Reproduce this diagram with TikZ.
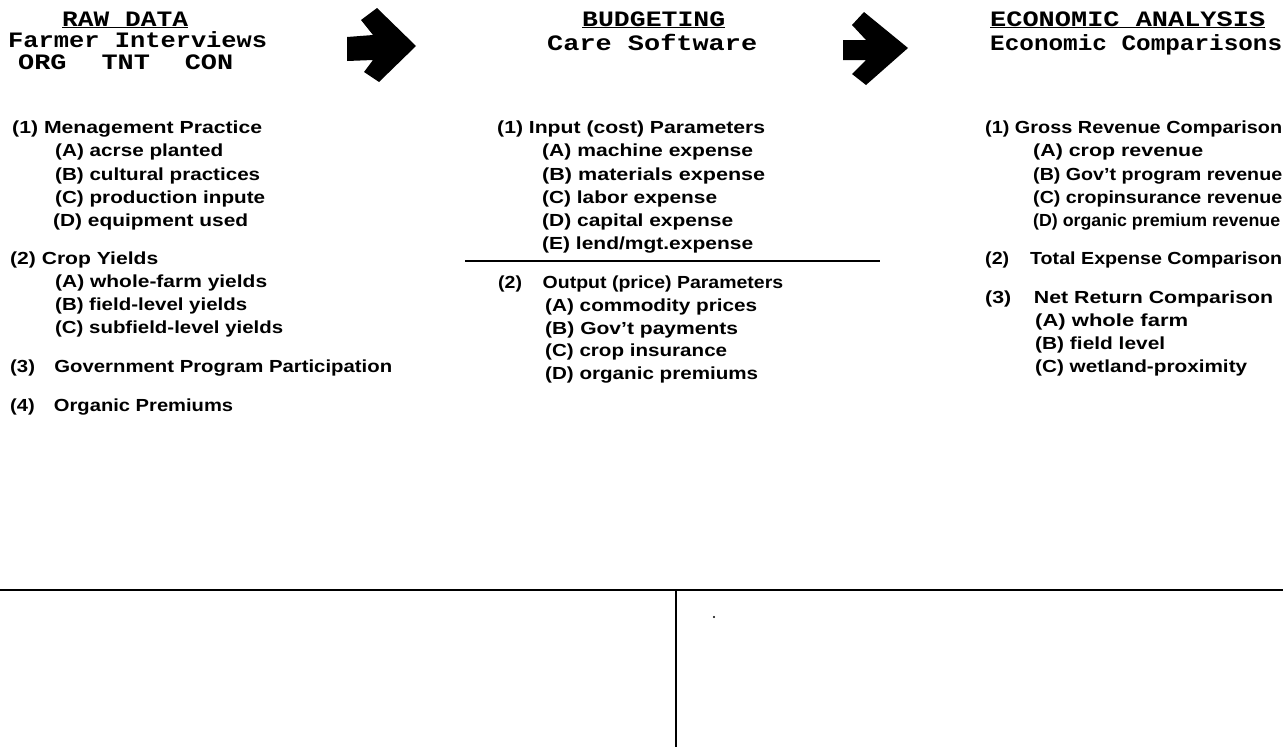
\documentclass[tikz,border=0pt]{standalone}
\usepackage{graphicx}
\usepackage{fontspec}
\newfontfamily\hdfont{Liberation Mono}
\newfontfamily\bdfont{Liberation Sans}
\newcommand\fitw[2]{\resizebox{#1pt}{\height}{#2}}
\tikzset{
  hd/.style={font=\hdfont\bfseries\fontsize{22}{22}\selectfont, inner sep=0pt, anchor=base west},
  tx/.style={font=\bdfont\bfseries\fontsize{17.5}{17.5}\selectfont, inner sep=0pt, anchor=base west},
  rulel/.style={line width=2pt, black},
  framel/.style={line width=2.6pt, black},
  arrowshape/.style={fill=black}
}
\begin{document}
\begin{tikzpicture}[x=1pt,y=-1pt]
\useasboundingbox[fill=white] (0,0) rectangle (1283,747);
% headers
\node[hd] (h1a) at (62,26) {\fitw{126}{\underline{RAW DATA}}};
\node[hd] (h1b) at (8,47) {\fitw{259}{Farmer Interviews}};
\node[hd] (h1c) at (18,69) {\fitw{215}{ORG\hspace{1.3em}TNT\hspace{1.3em}CON}};
\node[hd] (h2a) at (582,26) {\fitw{143}{\underline{BUDGETING}}};
\node[hd] (h2b) at (547,50) {\fitw{210}{Care Software}};
\node[hd] (h3a) at (990,26) {\fitw{275}{\underline{ECONOMIC ANALYSIS}}};
\node[hd] (h3b) at (990,50) {\fitw{292}{Economic Comparisons}};
% arrows
\fill[arrowshape] (347,37) -- (373,35) -- (361,20) -- (377,8) -- (416,46) -- (379,82) -- (364,72) -- (373,60) -- (347,61) -- cycle;
\fill[arrowshape] (843,40) -- (866,40) -- (852,25) -- (864,12) -- (908,48) -- (866,85) -- (852,74) -- (866,60) -- (843,60) -- cycle;
% left column
\node[tx] (l1) at (12,133) {\fitw{250}{(1) Menagement Practice}};
\node[tx] (l1a) at (55,156) {\fitw{168}{(A) acrse planted}};
\node[tx] (l1b) at (55,180) {\fitw{205}{(B) cultural practices}};
\node[tx] (l1c) at (55,203) {\fitw{210}{(C) production inpute}};
\node[tx] (l1d) at (53,226) {\fitw{195}{(D) equipment used}};
\node[tx] (l2) at (10,264) {\fitw{148}{(2) Crop Yields}};
\node[tx] (l2a) at (55,287) {\fitw{212}{(A) whole-farm yields}};
\node[tx] (l2b) at (55,310) {\fitw{192}{(B) field-level yields}};
\node[tx] (l2c) at (55,333) {\fitw{228}{(C) subfield-level yields}};
\node[tx] (l3) at (10,372) {\fitw{382}{\makebox[38pt][l]{(3)}Government Program Participation}};
\node[tx] (l4) at (10,411) {\fitw{223}{\makebox[38pt][l]{(4)}Organic Premiums}};
% middle column
\node[tx] (m1) at (497,133) {\fitw{268}{(1) Input (cost) Parameters}};
\node[tx] (m1a) at (542,156) {\fitw{211}{(A) machine expense}};
\node[tx] (m1b) at (542,180) {\fitw{223}{(B) materials expense}};
\node[tx] (m1c) at (542,203) {\fitw{175}{(C) labor expense}};
\node[tx] (m1d) at (542,226) {\fitw{191}{(D) capital expense}};
\node[tx] (m1e) at (542,249) {\fitw{211}{(E) lend/mgt.expense}};
\coordinate (rs) at (465,261);
\coordinate (re) at (880,261);
\draw[rulel] (rs) -- (re);
\node[tx] (m2) at (498,288) {\fitw{285}{\makebox[40pt][l]{(2)}Output (price) Parameters}};
\node[tx] (m2a) at (545,311) {\fitw{212}{(A) commodity prices}};
\node[tx] (m2b) at (545,334) {\fitw{193}{(B) Gov’t payments}};
\node[tx] (m2c) at (545,356) {\fitw{182}{(C) crop insurance}};
\node[tx] (m2d) at (545,379) {\fitw{213}{(D) organic premiums}};
% right column
\node[tx] (r1) at (985,133) {\fitw{297}{(1) Gross Revenue Comparison}};
\node[tx] (r1a) at (1033,156) {\fitw{170}{(A) crop revenue}};
\node[tx] (r1b) at (1033,180) {\fitw{249}{(B) Gov’t program revenue}};
\node[tx] (r1c) at (1033,203) {\fitw{249}{(C) cropinsurance revenue}};
\node[tx] (r1d) at (1033,226) {\fitw{247}{(D) organic premium revenue}};
\node[tx] (r2) at (985,264) {\fitw{297}{\makebox[40pt][l]{(2)}Total Expense Comparison}};
\node[tx] (r3) at (985,303) {\fitw{288}{\makebox[40pt][l]{(3)}Net Return Comparison}};
\node[tx] (r3a) at (1035,326) {\fitw{153}{(A) whole farm}};
\node[tx] (r3b) at (1035,349) {\fitw{130}{(B) field level}};
\node[tx] (r3c) at (1035,372) {\fitw{212}{(C) wetland-proximity}};
% bottom frame
\coordinate (bl) at (0,590);
\coordinate (br) at (1283,590);
\coordinate (vt) at (676,590);
\coordinate (vb) at (676,747);
\draw[framel] (bl) -- (br);
\draw[framel] (vt) -- (vb);
\fill (714,617) circle (1.2);
\end{tikzpicture}
\end{document}
